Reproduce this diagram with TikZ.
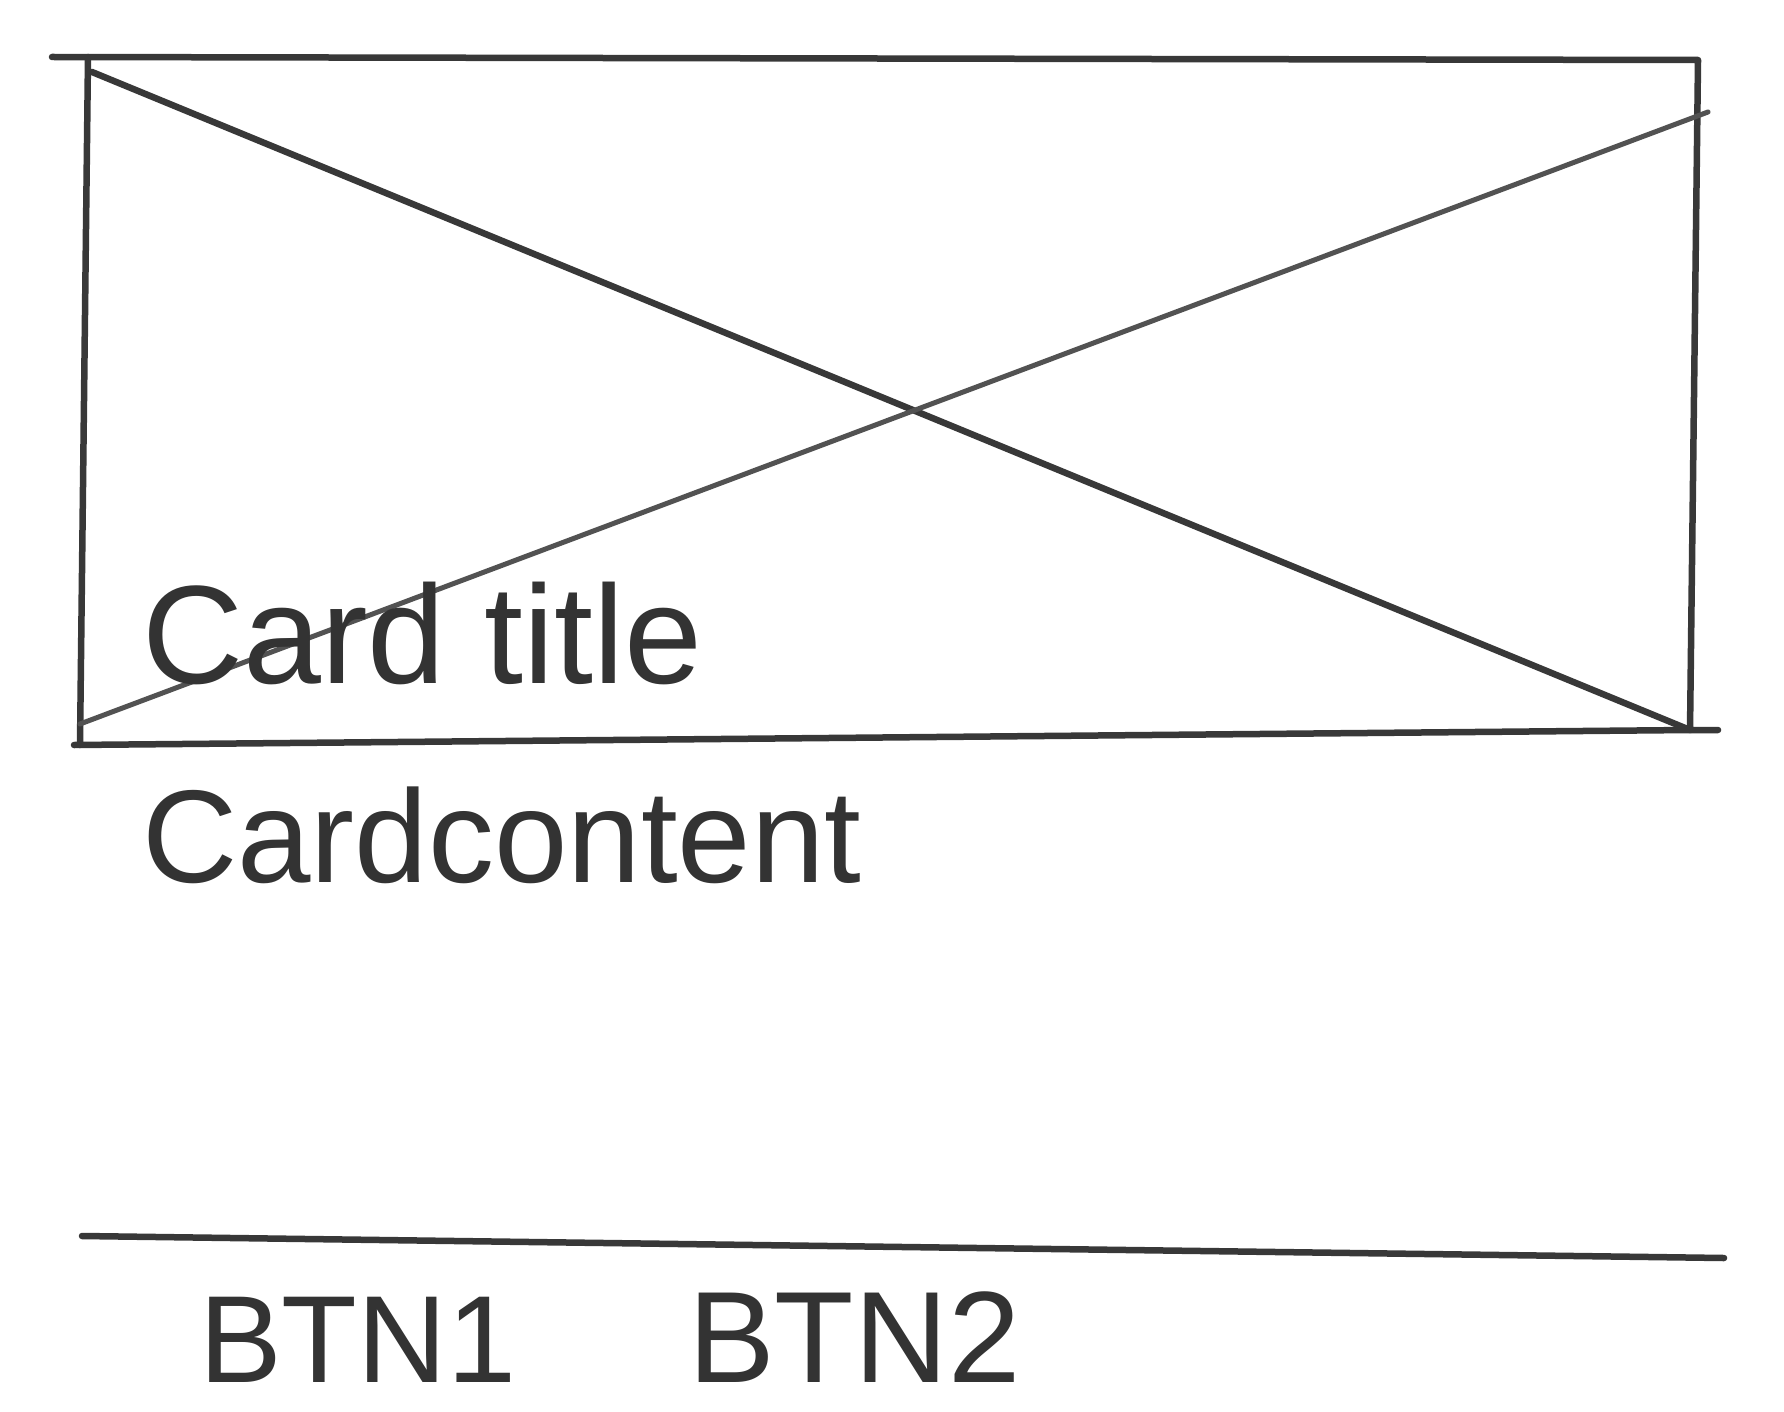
\documentclass[tikz,border=0pt]{standalone}
\usepackage{fontspec}
\setmainfont{Liberation Sans}
\begin{document}
\begin{tikzpicture}[x=1pt,y=-1pt,
  ink/.style={draw=black!78,line width=6.5pt,line cap=round,line join=round},
  thin/.style={draw=black!68,line width=5pt,line cap=round},
  hand/.style={text=black!80,inner sep=0pt,anchor=base west}]
\useasboundingbox[fill=white] (0,0) rectangle (1784,1412);
\coordinate (tl) at (88,57);
\coordinate (tr) at (1698,60);
\coordinate (br) at (1690,730);
\coordinate (bl) at (80,745);
% frame
\draw[ink] (52,57) -- (tr) -- (br) -- (1718,730) (74,745) -- (br);
\draw[ink] (tl) -- (bl);
% diagonals
\draw[ink] (92,72) -- (br);
\draw[thin] (80,724) -- (1708,112);
% separator
\coordinate (sl) at (82,1236);
\coordinate (sr) at (1724,1258);
\draw[ink] (sl) -- (sr);
% texts
\node[hand,font=\fontsize{140}{160}\selectfont] (title) at (142,683) {Card title};
\node[hand,font=\fontsize{132}{150}\selectfont] (content) at (142,882) {Cardcontent};
\node[hand,font=\fontsize{124}{140}\selectfont] (b1) at (199,1382) {BTN1};
\node[hand,font=\fontsize{130}{140}\selectfont] (b2) at (688,1382) {BTN2};
\end{tikzpicture}
\end{document}
